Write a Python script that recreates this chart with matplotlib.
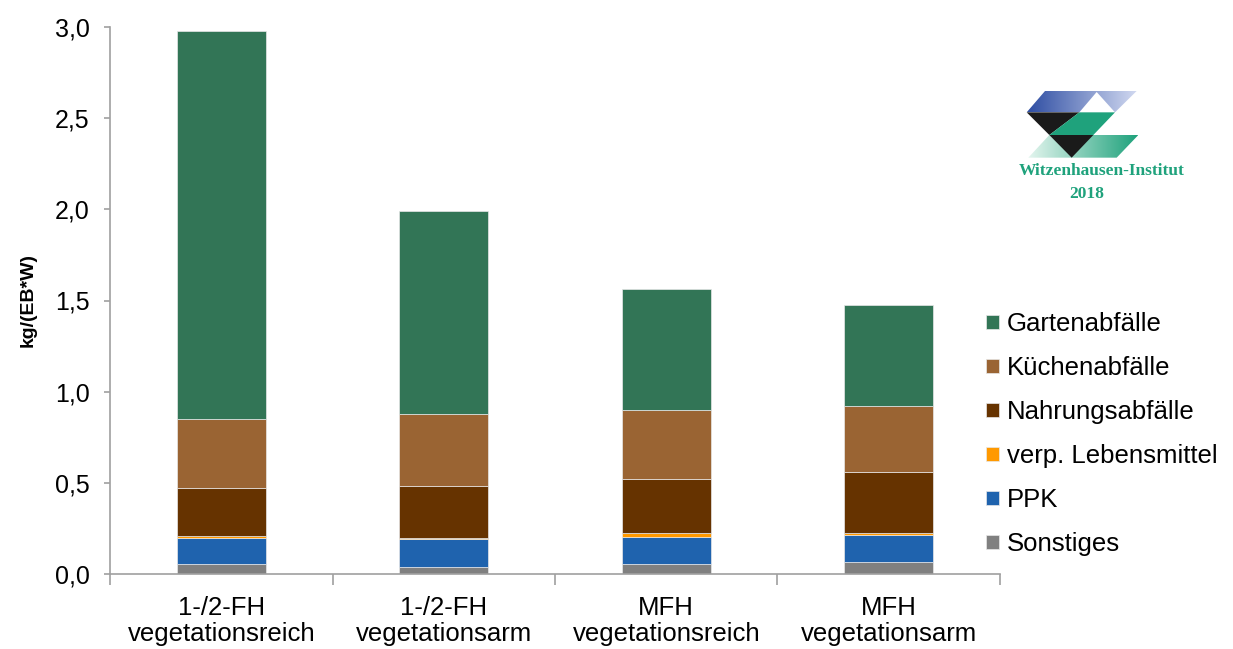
import numpy as np
import matplotlib.pyplot as plt
from matplotlib.patches import Polygon
from matplotlib.colors import to_rgb

plt.rcParams['font.family'] = ['Liberation Sans', 'DejaVu Sans']

kategorien = ['1-/2-FH\nvegetationsreich', '1-/2-FH\nvegetationsarm',
              'MFH\nvegetationsreich', 'MFH\nvegetationsarm']

# Fraktionen von unten nach oben, kg/(EB*W)
sonstiges = [0.057, 0.038, 0.055, 0.064]
ppk = [0.143, 0.152, 0.148, 0.152]
verp_lebensmittel = [0.008, 0.006, 0.022, 0.011]
nahrungsabfaelle = [0.265, 0.288, 0.298, 0.334]
kuechenabfaelle = [0.377, 0.396, 0.377, 0.359]
gartenabfaelle = [2.130, 1.110, 0.663, 0.556]

fraktionen = ['Sonstiges', 'PPK', 'verp. Lebensmittel', 'Nahrungsabfälle',
              'Küchenabfälle', 'Gartenabfälle']
werte = [sonstiges, ppk, verp_lebensmittel, nahrungsabfaelle,
         kuechenabfaelle, gartenabfaelle]
farben = ['#808080', '#1f63ae', '#ff9900', '#663300', '#9a6433', '#327556']

W, H = 1233, 649
fig = plt.figure(figsize=(W / 100, H / 100), dpi=100)
ax = fig.add_axes([110 / W, 1 - 574 / H, 890 / W, 547 / H])

x = np.arange(len(kategorien))
unten = np.zeros(len(kategorien))
handles = []
for name, v, c in zip(fraktionen, werte, farben):
    b = ax.bar(x, v, 0.4, bottom=unten, color=c, edgecolor='#e8e8e8',
               linewidth=0.5, label=name, zorder=2)
    handles.append(b)
    unten += np.array(v)

ax.set_xlim(-0.5, len(kategorien) - 0.5)
ax.set_ylim(0, 3.0)
yt = np.arange(0, 3.01, 0.5)
ax.set_yticks(yt)
ax.set_yticklabels([f'{t:.1f}'.replace('.', ',') for t in yt], fontsize=18)
ax.set_xticks(x)
ax.set_xticklabels(kategorien, fontsize=18.5, linespacing=1.08)
ax.set_xticks(np.arange(-0.5, len(kategorien)), minor=True)
ax.tick_params(axis='x', which='major', length=0, pad=16)
ax.tick_params(axis='x', which='minor', length=8, color='#a0a0a0', width=1.2)
ax.tick_params(axis='y', length=4.5, color='#a0a0a0', width=1.2, pad=10)
ax.set_ylabel('kg/(EB*W)', fontsize=14, fontweight='bold', labelpad=13)
for s in ['top', 'right']:
    ax.spines[s].set_visible(False)
for s in ['left', 'bottom']:
    ax.spines[s].set_color('#a0a0a0')
    ax.spines[s].set_linewidth(1.2)

leg = ax.legend(handles=handles[::-1], loc='upper left',
                bbox_to_anchor=(986 / W, 1 - 312 / H),
                bbox_transform=fig.transFigure, frameon=False, fontsize=18.5,
                handlelength=0.5, handleheight=0.5, handletextpad=0.3,
                labelspacing=0.78, borderaxespad=0, borderpad=0)

# Logo oben rechts, in Pixelkoordinaten
lax = fig.add_axes([0, 0, 1, 1], zorder=5)
lax.set_xlim(0, W)
lax.set_ylim(H, 0)
lax.axis('off')


def p(zx, zy):
    return (1000 + zx / 3, 80 + zy / 3)


def verlauf(pts, c1, c2):
    poly = Polygon(pts, closed=True, facecolor='none', edgecolor='none')
    lax.add_patch(poly)
    xs = [q[0] for q in pts]
    ys = [q[1] for q in pts]
    t = np.linspace(0, 1, 64)
    a, b = np.array(to_rgb(c1)), np.array(to_rgb(c2))
    img = (a[None, :] * (1 - t[:, None]) + b[None, :] * t[:, None])[None, :, :]
    im = lax.imshow(img, extent=(min(xs), max(xs), max(ys), min(ys)),
                    aspect='auto', interpolation='bilinear', zorder=1)
    im.set_clip_path(poly)


# blaues Band oben
verlauf([p(135, 33), p(410, 33), p(345, 97), p(80, 97)], '#2f4ea3', '#d0d8f0')
lax.add_patch(Polygon([p(290, 36), p(345, 97), p(238, 97)], closed=True,
                      facecolor='white', edgecolor='none', zorder=2))
# schwarzes V und gruene Baender
verlauf([p(148, 165), p(415, 165), p(350, 233), p(85, 233)], '#e3f5ee', '#1fa27c')
lax.add_patch(Polygon([p(80, 97), p(238, 97), p(148, 165)], closed=True,
                      facecolor='#1a1a1a', edgecolor='none', zorder=2))
lax.add_patch(Polygon([p(238, 97), p(345, 97), p(280, 165), p(148, 165)], closed=True,
                      facecolor='#1fa27c', edgecolor='none', zorder=2))
lax.add_patch(Polygon([p(148, 165), p(280, 165), p(215, 233)], closed=True,
                      facecolor='#1a1a1a', edgecolor='none', zorder=2))

serif = ['Liberation Serif', 'DejaVu Serif']
lax.text(1102, 171, 'Witzenhausen-Institut', ha='center', va='center',
         fontsize=12.5, fontweight='bold', color='#1fa27c', family=serif)
lax.text(1087, 194, '2018', ha='center', va='center',
         fontsize=12.5, fontweight='bold', color='#1fa27c', family=serif)

fig.savefig('out.png', dpi=100)
